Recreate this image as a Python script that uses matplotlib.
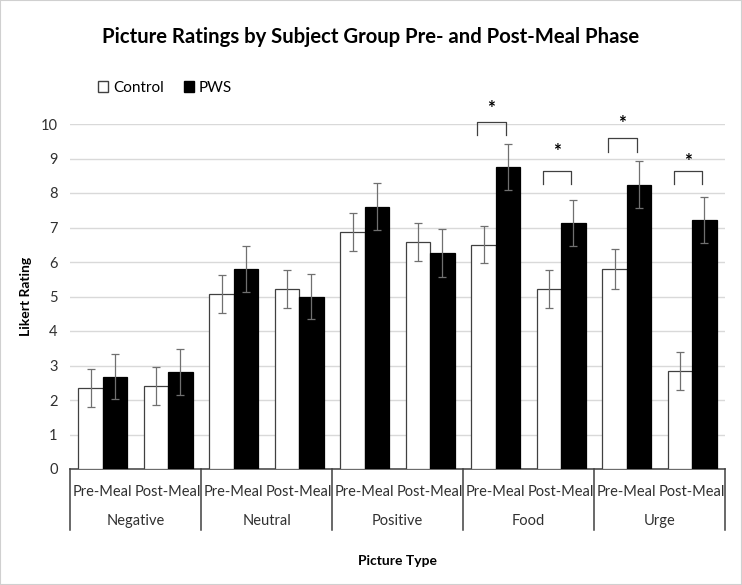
import matplotlib
matplotlib.use('Agg')
import matplotlib.pyplot as plt
import matplotlib.transforms as mtransforms
from matplotlib.patches import Patch, Rectangle
import numpy as np

plt.rcParams['font.family'] = ['Lato', 'DejaVu Sans']

groups = ['Negative', 'Neutral', 'Positive', 'Food', 'Urge']
phases = ['Pre-Meal', 'Post-Meal']
control = [2.35, 2.41, 5.06, 5.21, 6.86, 6.57, 6.50, 5.21, 5.80, 2.84]
control_err = [0.56, 0.55, 0.55, 0.55, 0.55, 0.55, 0.54, 0.55, 0.57, 0.55]
pws = [2.67, 2.81, 5.79, 4.99, 7.60, 6.27, 8.75, 7.13, 8.24, 7.21]
pws_err = [0.65, 0.67, 0.67, 0.65, 0.68, 0.70, 0.67, 0.67, 0.68, 0.67]

# significance brackets: bar index, bracket top, star height
sig_idx = [6, 7, 8, 9]
sig_top = [10.05, 8.65, 9.58, 8.63]
sig_star = [10.45, 9.2, 10.02, 8.92]

fig = plt.figure(figsize=(7.42, 5.85), dpi=100)
ax = fig.add_axes([70 / 742, 116 / 585, 655 / 742, 345 / 585])

x = np.arange(len(control))
w = 0.374
ax.bar(x - w / 2, control, w, color='white', edgecolor='#404040', linewidth=0.9, zorder=3)
ax.bar(x + w / 2, pws, w, color='black', edgecolor='black', linewidth=0.9, zorder=3)
ax.errorbar(x - w / 2, control, yerr=control_err, fmt='none', ecolor='#707070',
            elinewidth=0.9, capsize=3, capthick=0.9, zorder=4)
ax.errorbar(x + w / 2, pws, yerr=pws_err, fmt='none', ecolor='#707070',
            elinewidth=0.9, capsize=3, capthick=0.9, zorder=4)

for i, top, st in zip(sig_idx, sig_top, sig_star):
    x0, x1 = i - 0.28, i + 0.15
    ax.plot([x0, x0, x1, x1], [top - 0.38, top, top, top - 0.38], color='#404040',
            lw=0.9, clip_on=False, zorder=5)
    ax.text((x0 + x1) / 2, st, '*', ha='center', va='center', fontsize=13.5,
            fontweight='bold', clip_on=False)

ax.set_xlim(-0.5, len(control) - 0.5)
ax.set_ylim(0, 10)
ax.set_yticks(range(0, 11))
ax.yaxis.grid(True, color='#d9d9d9', lw=1)
ax.set_axisbelow(True)
ax.tick_params(axis='y', length=0, labelsize=10.5, pad=9, labelcolor='#303030')
ax.set_xticks([])
for s in ['top', 'right', 'left']:
    ax.spines[s].set_visible(False)
ax.spines['bottom'].set_color('#404040')
ax.spines['bottom'].set_linewidth(1.1)

trans = mtransforms.blended_transform_factory(ax.transData, ax.transAxes)
for b in np.arange(-0.5, len(control), 2):
    ax.plot([b, b], [0, -0.177], color='#404040', lw=1.1, transform=trans, clip_on=False)
for i in x:
    ax.text(i, -0.067, phases[i % 2], ha='center', va='center', fontsize=10.5,
            color='#303030', transform=trans)
for g, name in enumerate(groups):
    ax.text(2 * g + 0.5, -0.151, name, ha='center', va='center', fontsize=10.5,
            color='#303030', transform=trans)
ax.text(0.5, -0.267, 'Picture Type', ha='center', va='center', fontsize=10,
        fontweight='bold', transform=ax.transAxes)
ax.set_ylabel('Likert Rating', fontsize=10, fontweight='bold', labelpad=6)

fig.text(0.5, 1 - 37 / 585, 'Picture Ratings by Subject Group Pre- and Post-Meal Phase',
         ha='center', va='center', fontsize=14.6, fontweight='bold')

handles = [Patch(facecolor='white', edgecolor='#404040', label='Control'),
           Patch(facecolor='black', edgecolor='black', label='PWS')]
fig.legend(handles=handles, loc='center left', bbox_to_anchor=(84 / 742, 1 - 88 / 585),
           ncol=2, frameon=False, fontsize=11, handlelength=0.7, handleheight=0.7,
           handletextpad=0.3, columnspacing=1.3)

fig.patches.append(Rectangle((0, 0), 1, 1, transform=fig.transFigure, fill=False,
                             edgecolor='#d0d0d0', lw=1.5))

fig.savefig('out.png', dpi=100)
